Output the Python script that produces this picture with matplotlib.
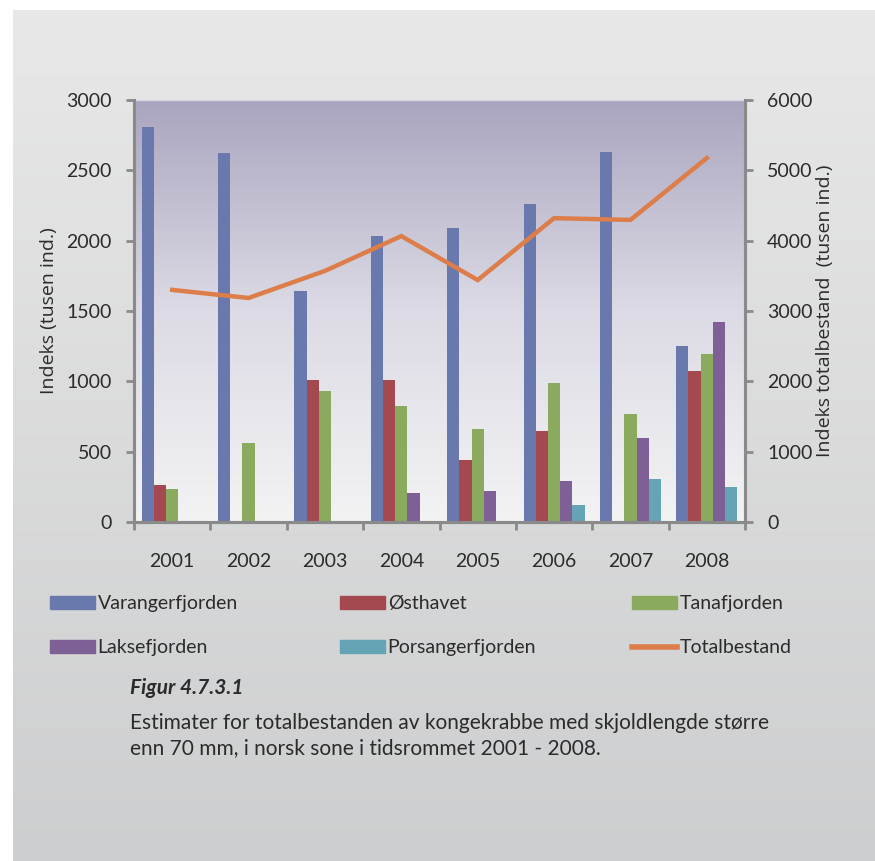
import numpy as np
import matplotlib.pyplot as plt
from matplotlib.patches import Patch
from matplotlib.lines import Line2D
from matplotlib.colors import LinearSegmentedColormap

# data
years = ['2001', '2002', '2003', '2004', '2005', '2006', '2007', '2008']
varanger = [2810, 2625, 1645, 2035, 2090, 2260, 2630, 1250]
osthavet = [260, np.nan, 1010, 1010, 440, 650, np.nan, 1075]
tana = [235, 560, 930, 825, 660, 985, 770, 1195]
lakse = [np.nan, np.nan, np.nan, 205, 220, 290, 595, 1420]
porsanger = [np.nan, np.nan, np.nan, np.nan, np.nan, 120, 305, 250]
total = [3300, 3185, 3570, 4065, 3440, 4320, 4295, 5175]

series = [('Varangerfjorden', varanger, '#6a79ad'),
          ('Østhavet', osthavet, '#a4494f'),
          ('Tanafjorden', tana, '#8aab5e'),
          ('Laksefjorden', lakse, '#7e5f96'),
          ('Porsangerfjorden', porsanger, '#64a4b5')]
orange = '#dc7d4a'
grey = '#8a8a8a'
txt = '#2b2b2b'

plt.rcParams['font.family'] = ['Lato', 'DejaVu Sans']

fig = plt.figure(figsize=(8.75, 8.61), dpi=100)

# grey panel behind everything
bg = fig.add_axes([13/875, 0, 1 - 13/875, 851/861], zorder=-10)
bg_cmap = LinearSegmentedColormap.from_list('bg', ['#cdcecf', '#e8e8e8'])
bg.imshow(np.linspace(0, 1, 256).reshape(-1, 1), cmap=bg_cmap, aspect='auto',
          origin='lower', extent=[0, 1, 0, 1])
bg.axis('off')

ax = fig.add_axes([134/875, 1 - 522/861, (745 - 134)/875, (522 - 100)/861])
ax.patch.set_visible(False)
pa_cmap = LinearSegmentedColormap.from_list('pa', ['#f3f3f4', '#dcdbe5', '#aaa5bf'])
ax.imshow(np.linspace(0, 1, 256).reshape(-1, 1), cmap=pa_cmap, aspect='auto',
          origin='lower', extent=[0, 1, 0, 1], transform=ax.transAxes, zorder=0)

x = np.arange(len(years))
w = 0.16
for i, (name, vals, col) in enumerate(series):
    ax.bar(x + (i - 2) * w, vals, w, color=col, zorder=2)

ax.set_xlim(-0.5, len(years) - 0.5)
ax.set_ylim(0, 3000)
ax.set_yticks(range(0, 3001, 500))
ax.set_xticks(np.arange(-0.5, len(years)), [''] * (len(years) + 1))
ax.set_xticks(x, years, minor=True)
ax.tick_params(axis='x', which='major', direction='out', length=6, width=2, color=grey)
ax.tick_params(axis='x', which='minor', length=0, pad=22, labelsize=14, labelcolor=txt)
ax.tick_params(axis='y', direction='out', length=6, width=2, color=grey,
               pad=10, labelsize=14, labelcolor=txt)
for s in ['left', 'bottom', 'right']:
    ax.spines[s].set_color(grey)
    ax.spines[s].set_linewidth(2.2)
ax.spines['top'].set_color('#d8d8e0')
ax.spines['top'].set_linewidth(1)
ax.set_ylabel('Indeks (tusen ind.)', fontsize=14, color=txt, family='Open Sans',
              labelpad=6)

ax2 = ax.twinx()
ax2.plot(x, total, color=orange, lw=3.2, solid_joinstyle='miter', zorder=3)
ax2.set_ylim(0, 6000)
ax2.set_yticks(range(0, 6001, 1000))
ax2.tick_params(axis='y', direction='out', length=6, width=2, color=grey,
                pad=10, labelsize=14, labelcolor=txt)
for s in ['left', 'bottom', 'right']:
    ax2.spines[s].set_color(grey)
    ax2.spines[s].set_linewidth(2.2)
ax2.spines['top'].set_visible(False)
ax2.set_ylabel('Indeks totalbestand  (tusen ind.)', fontsize=14, color=txt,
               family='Open Sans', labelpad=2)

# legend in three columns
handles = [Patch(color=c) for _, _, c in series] + [Line2D([], [], color=orange, lw=4)]
labels = [n for n, _, _ in series] + ['Totalbestand']
cols = [(0, 3), (1, 4), (2, 5)]
col_x = [50/875, 340/875, 632/875]
for (a, b), cx in zip(cols, col_x):
    fig.legend([handles[a], handles[b]], [labels[a], labels[b]],
               loc='upper left', bbox_to_anchor=(cx, 1 - 595/861), frameon=False,
               fontsize=14, handlelength=2.3, handleheight=0.65, handletextpad=0.15,
               labelspacing=1.4, labelcolor=txt, borderaxespad=0, borderpad=0)

# caption
fig.text(130/875, 1 - 688/861, 'Figur 4.7.3.1', fontsize=15, weight='bold',
         style='italic', color=txt, va='center')
fig.text(130/875, 1 - 723/861,
         'Estimater for totalbestanden av kongekrabbe med skjoldlengde større',
         fontsize=15, color=txt, va='center')
fig.text(130/875, 1 - 748/861, 'enn 70 mm, i norsk sone i tidsrommet 2001 - 2008.',
         fontsize=15, color=txt, va='center')

fig.savefig('out.png', dpi=100)
